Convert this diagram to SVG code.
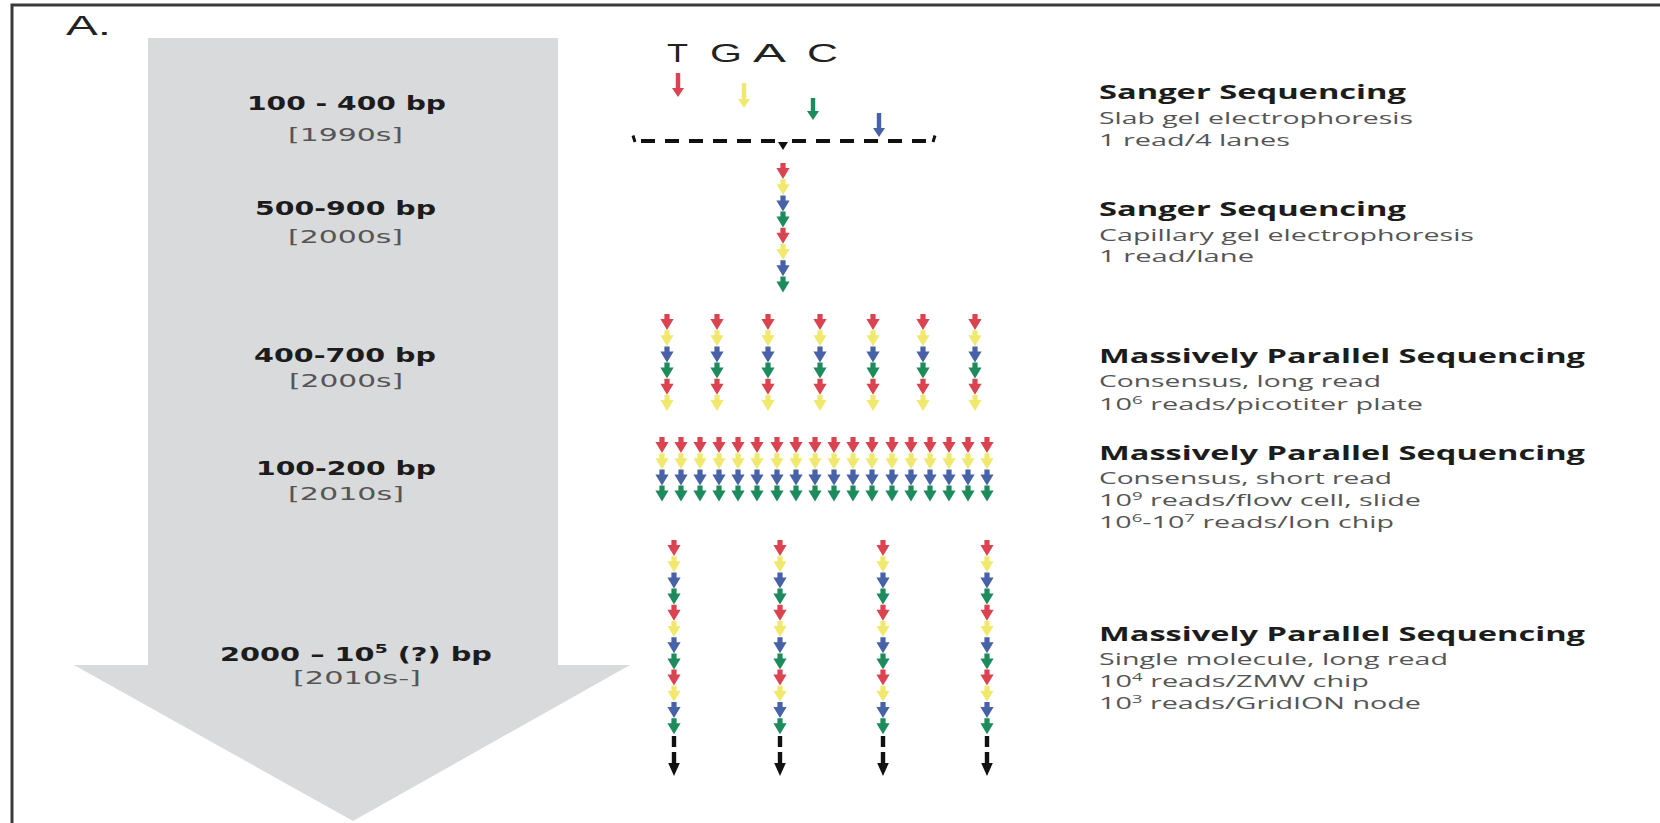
<svg xmlns="http://www.w3.org/2000/svg" width="1660" height="823" viewBox="0 0 1660 823">
<style>
  .era{font-family:"DejaVu Sans",Verdana,sans-serif;font-weight:bold;font-size:20px;fill:#1c1c1c}
  .yr{font-family:"DejaVu Sans",Verdana,sans-serif;font-size:18px;fill:#555}
  .ttl{font-family:"Open Sans","Liberation Sans",sans-serif;font-weight:bold;font-size:20px;fill:#1c1c1c}
  .sub{font-family:"Open Sans","Liberation Sans",sans-serif;font-size:17px;fill:#555}
  .base{font-family:"Liberation Sans",Arial,sans-serif;font-size:26px;fill:#222}
  .panel{font-family:"Liberation Sans",Arial,sans-serif;font-size:27px;fill:#222}
  .r{fill:#da4350}.y{fill:#f0e96e}.bl{fill:#4862a8}.g{fill:#1d8b5b}
  .ink{fill:#111}
  .dash{fill:none;stroke:#111;stroke-width:3.8;stroke-dasharray:14 10}
</style>
<defs>
  <!-- one incorporated base: short stem with a broad downward head -->
  <path id="bead" d="M-2.6,-9H2.6V-4H6.6L0,7L-6.6,-4H-2.6Z"/>
  <g id="q"><use href="#bead" class="r"/><use href="#bead" class="y" y="16.2"/><use href="#bead" class="bl" y="32.4"/><use href="#bead" class="g" y="48.6"/></g>
  <g id="q6"><use href="#q"/><use href="#bead" class="r" y="64.8"/><use href="#bead" class="y" y="81"/></g>
  <g id="q8"><use href="#q"/><use href="#q" y="64.8"/></g>
  <g id="q12"><use href="#q"/><use href="#q" y="64.8"/><use href="#q" y="129.6"/></g>
  <!-- read continues: dashed black tail with arrowhead -->
  <g id="tail" class="ink"><rect x="-2.2" y="736" width="4.4" height="11"/><path d="M-2.2,752h4.4v11h3.6l-5.8,13l-5.8,-13h3.6z"/></g>
</defs>

<!-- frame -->
<path d="M12,823V5H1660" fill="none" stroke="#3a3a3a" stroke-width="3"/>
<text class="panel" x="66" y="35" textLength="45" lengthAdjust="spacingAndGlyphs">A.</text>

<!-- timeline arrow -->
<g id="timeline">
  <polygon points="148,38 558,38 558,665 630,665 353,821 74,665 148,665" fill="#d9dadc"/>
</g>

<!-- read-length eras -->
<g id="era-1990s">
  <text class="era" x="247" y="110" textLength="199" lengthAdjust="spacingAndGlyphs">100 - 400 bp</text>
  <text class="yr" x="288" y="141" textLength="115" lengthAdjust="spacingAndGlyphs">[1990s]</text>
</g>
<g id="era-2000s-a">
  <text class="era" x="255" y="215" textLength="181" lengthAdjust="spacingAndGlyphs">500-900 bp</text>
  <text class="yr" x="288" y="243" textLength="115" lengthAdjust="spacingAndGlyphs">[2000s]</text>
</g>
<g id="era-2000s-b">
  <text class="era" x="254" y="362" textLength="182" lengthAdjust="spacingAndGlyphs">400-700 bp</text>
  <text class="yr" x="289" y="387" textLength="114" lengthAdjust="spacingAndGlyphs">[2000s]</text>
</g>
<g id="era-2010s">
  <text class="era" x="256" y="475" textLength="180" lengthAdjust="spacingAndGlyphs">100-200 bp</text>
  <text class="yr" x="288" y="500" textLength="116" lengthAdjust="spacingAndGlyphs">[2010s]</text>
</g>
<g id="era-2010s-on">
  <text class="era" x="220" y="661" textLength="272" lengthAdjust="spacingAndGlyphs">2000 – 10<tspan dy="-8" font-size="13">5</tspan><tspan dy="8"> (?) bp</tspan></text>
  <text class="yr" x="293" y="684" textLength="128" lengthAdjust="spacingAndGlyphs">[2010s-]</text>
</g>

<!-- slab gel: four lanes -->
<g id="slab-gel">
  <text class="base" x="667" y="62" textLength="21" lengthAdjust="spacingAndGlyphs">T</text>
  <text class="base" x="710" y="62" textLength="32" lengthAdjust="spacingAndGlyphs">G</text>
  <text class="base" x="753" y="62" textLength="33" lengthAdjust="spacingAndGlyphs">A</text>
  <text class="base" x="807" y="62" textLength="31" lengthAdjust="spacingAndGlyphs">C</text>
  <path class="r" d="M675.8,73H680.2V88H684L678,97L672,88H675.8Z"/>
  <path class="y" d="M741.8,83H746.2V99H750L744,108L738,99H741.8Z"/>
  <path class="g" d="M810.8,98H815.2V111H819L813,120L807,111H810.8Z"/>
  <path class="bl" d="M876.8,113H881.2V128H885L879,137L873,128H876.8Z"/>
</g>

<!-- connectors: lanes merged into one read, reads continuing -->
<g id="connectors">
  <path class="dash" d="M641,141H777M792,141H928"/>
  <path d="M633,135.5L635,142M935,135.5L933,142" fill="none" stroke="#111" stroke-width="3"/>
  <path class="ink" d="M778,142H788L783,150Z"/>
  <use href="#tail" x="674"/>
  <use href="#tail" x="780"/>
  <use href="#tail" x="883"/>
  <use href="#tail" x="987"/>
</g>

<!-- capillary: single read -->
<g id="capillary-read">
  <use href="#q8" x="783" y="172"/>
</g>

<!-- pyrosequencing: long consensus reads -->
<g id="long-consensus-reads">
  <use href="#q6" x="667" y="323"/>
  <use href="#q6" x="717" y="323"/>
  <use href="#q6" x="768" y="323"/>
  <use href="#q6" x="820" y="323"/>
  <use href="#q6" x="873" y="323"/>
  <use href="#q6" x="923" y="323"/>
  <use href="#q6" x="975" y="323"/>
</g>

<!-- short consensus reads -->
<g id="short-consensus-reads">
  <use href="#q" x="662" y="446"/>
  <use href="#q" x="681" y="446"/>
  <use href="#q" x="700" y="446"/>
  <use href="#q" x="719" y="446"/>
  <use href="#q" x="738" y="446"/>
  <use href="#q" x="757" y="446"/>
  <use href="#q" x="777" y="446"/>
  <use href="#q" x="796" y="446"/>
  <use href="#q" x="815" y="446"/>
  <use href="#q" x="834" y="446"/>
  <use href="#q" x="853" y="446"/>
  <use href="#q" x="872" y="446"/>
  <use href="#q" x="892" y="446"/>
  <use href="#q" x="911" y="446"/>
  <use href="#q" x="930" y="446"/>
  <use href="#q" x="949" y="446"/>
  <use href="#q" x="968" y="446"/>
  <use href="#q" x="987" y="446"/>
</g>

<!-- single-molecule long reads -->
<g id="single-molecule-reads">
  <use href="#q12" x="674" y="549"/>
  <use href="#q12" x="780" y="549"/>
  <use href="#q12" x="883" y="549"/>
  <use href="#q12" x="987" y="549"/>
</g>

<!-- platform descriptions -->
<g id="desc-sanger-slab">
  <text class="ttl" x="1099" y="99" textLength="307" lengthAdjust="spacingAndGlyphs">Sanger Sequencing</text>
  <text class="sub" x="1099" y="124" textLength="314" lengthAdjust="spacingAndGlyphs">Slab gel electrophoresis</text>
  <text class="sub" x="1099" y="146" textLength="191" lengthAdjust="spacingAndGlyphs">1 read/4 lanes</text>
</g>
<g id="desc-sanger-capillary">
  <text class="ttl" x="1099" y="216" textLength="307" lengthAdjust="spacingAndGlyphs">Sanger Sequencing</text>
  <text class="sub" x="1099" y="241" textLength="375" lengthAdjust="spacingAndGlyphs">Capillary gel electrophoresis</text>
  <text class="sub" x="1099" y="262" textLength="155" lengthAdjust="spacingAndGlyphs">1 read/lane</text>
</g>
<g id="desc-mps-long">
  <text class="ttl" x="1099" y="363" textLength="486" lengthAdjust="spacingAndGlyphs">Massively Parallel Sequencing</text>
  <text class="sub" x="1099" y="387" textLength="282" lengthAdjust="spacingAndGlyphs">Consensus, long read</text>
  <text class="sub" x="1099" y="410" textLength="324" lengthAdjust="spacingAndGlyphs">10<tspan dy="-6" font-size="11">6</tspan><tspan dy="6"> reads/picotiter plate</tspan></text>
</g>
<g id="desc-mps-short">
  <text class="ttl" x="1099" y="460" textLength="486" lengthAdjust="spacingAndGlyphs">Massively Parallel Sequencing</text>
  <text class="sub" x="1099" y="484" textLength="293" lengthAdjust="spacingAndGlyphs">Consensus, short read</text>
  <text class="sub" x="1099" y="506" textLength="322" lengthAdjust="spacingAndGlyphs">10<tspan dy="-6" font-size="11">9</tspan><tspan dy="6"> reads/flow cell, slide</tspan></text>
  <text class="sub" x="1099" y="528" textLength="295" lengthAdjust="spacingAndGlyphs">10<tspan dy="-6" font-size="11">6</tspan><tspan dy="6">-10</tspan><tspan dy="-6" font-size="11">7</tspan><tspan dy="6"> reads/Ion chip</tspan></text>
</g>
<g id="desc-mps-single">
  <text class="ttl" x="1099" y="641" textLength="486" lengthAdjust="spacingAndGlyphs">Massively Parallel Sequencing</text>
  <text class="sub" x="1099" y="665" textLength="349" lengthAdjust="spacingAndGlyphs">Single molecule, long read</text>
  <text class="sub" x="1099" y="687" textLength="270" lengthAdjust="spacingAndGlyphs">10<tspan dy="-6" font-size="11">4</tspan><tspan dy="6"> reads/ZMW chip</tspan></text>
  <text class="sub" x="1099" y="709" textLength="322" lengthAdjust="spacingAndGlyphs">10<tspan dy="-6" font-size="11">3</tspan><tspan dy="6"> reads/GridION node</tspan></text>
</g>
</svg>
